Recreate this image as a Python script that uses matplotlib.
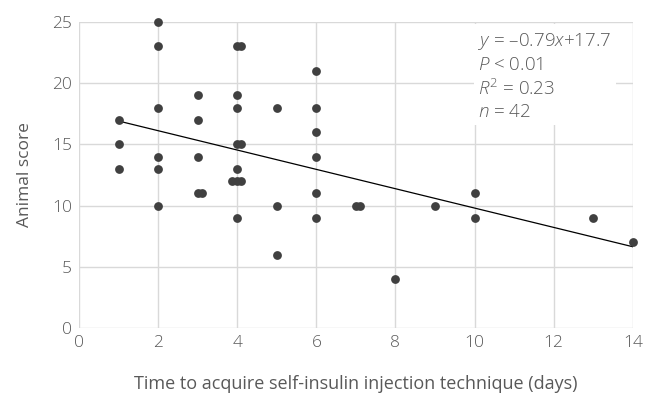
import numpy as np
import matplotlib
matplotlib.use("Agg")
from matplotlib import pyplot as plt

# days to acquire technique vs animal score (slight x offsets where points overlap)
days = [1, 1, 1,
        2, 2, 2, 2, 2, 2,
        3, 3, 3, 3, 3.1,
        4, 4.1, 4, 4, 4, 4.1, 4, 3.87, 4, 4.1, 4,
        5, 5, 5,
        6, 6, 6, 6, 6, 6,
        7, 7.1,
        8, 9, 10, 10, 13, 14]
score = [17, 15, 13,
         25, 23, 18, 14, 13, 10,
         19, 17, 14, 11, 11,
         23, 23, 19, 18, 15, 15, 13, 12, 12, 12, 9,
         18, 10, 6,
         21, 18, 16, 14, 11, 9,
         10, 10,
         4, 10, 11, 9, 9, 7]
slope, intercept = -0.79, 17.7
xticks = [0, 2, 4, 6, 8, 10, 12, 14]
yticks = [0, 5, 10, 15, 20, 25]

plt.rcParams['font.family'] = ['Open Sans', 'DejaVu Sans']
plt.rcParams['font.weight'] = 'light'
plt.rcParams['mathtext.fontset'] = 'custom'
plt.rcParams['mathtext.rm'] = 'Open Sans:light'
plt.rcParams['mathtext.it'] = 'Open Sans:italic:light'

txt = '#595959'
fig = plt.figure(figsize=(6.45, 3.93), dpi=100)
ax = fig.add_axes([0.1225, 0.1654, 0.8585, 0.7786])

ax.scatter(days, score, s=40, color='#404040', zorder=4, linewidths=0, clip_on=False)
xl = np.array([min(days), max(days)])
ax.plot(xl, slope * xl + intercept, color='black', lw=0.9, zorder=2)

ax.set_xlim(0, 14)
ax.set_ylim(0, 25)
ax.set_xticks(xticks)
ax.set_yticks(yticks)
ax.grid(True, color='#d9d9d9', lw=1)
ax.set_axisbelow(True)
for s in ax.spines.values():
    s.set_visible(False)
ax.tick_params(length=0, labelsize=12.5, colors=txt, pad=5)
ax.set_xlabel('Time to acquire self-insulin injection technique (days)', fontsize=13, color=txt, labelpad=17)
ax.set_ylabel('Animal score', fontsize=12.5, color=txt, labelpad=14)

ann = ('$y$ = –0.79$x$+17.7\n'
       '$P$ < 0.01\n'
       '$R^2$ = 0.23\n'
       '$n$ = 42')
ax.text(10.1, 24.3, ann, fontsize=13.5, color=txt, va='top', ha='left', linespacing=1.3,
        bbox=dict(facecolor='white', edgecolor='none', pad=3))

fig.savefig('out.png', dpi=100)
